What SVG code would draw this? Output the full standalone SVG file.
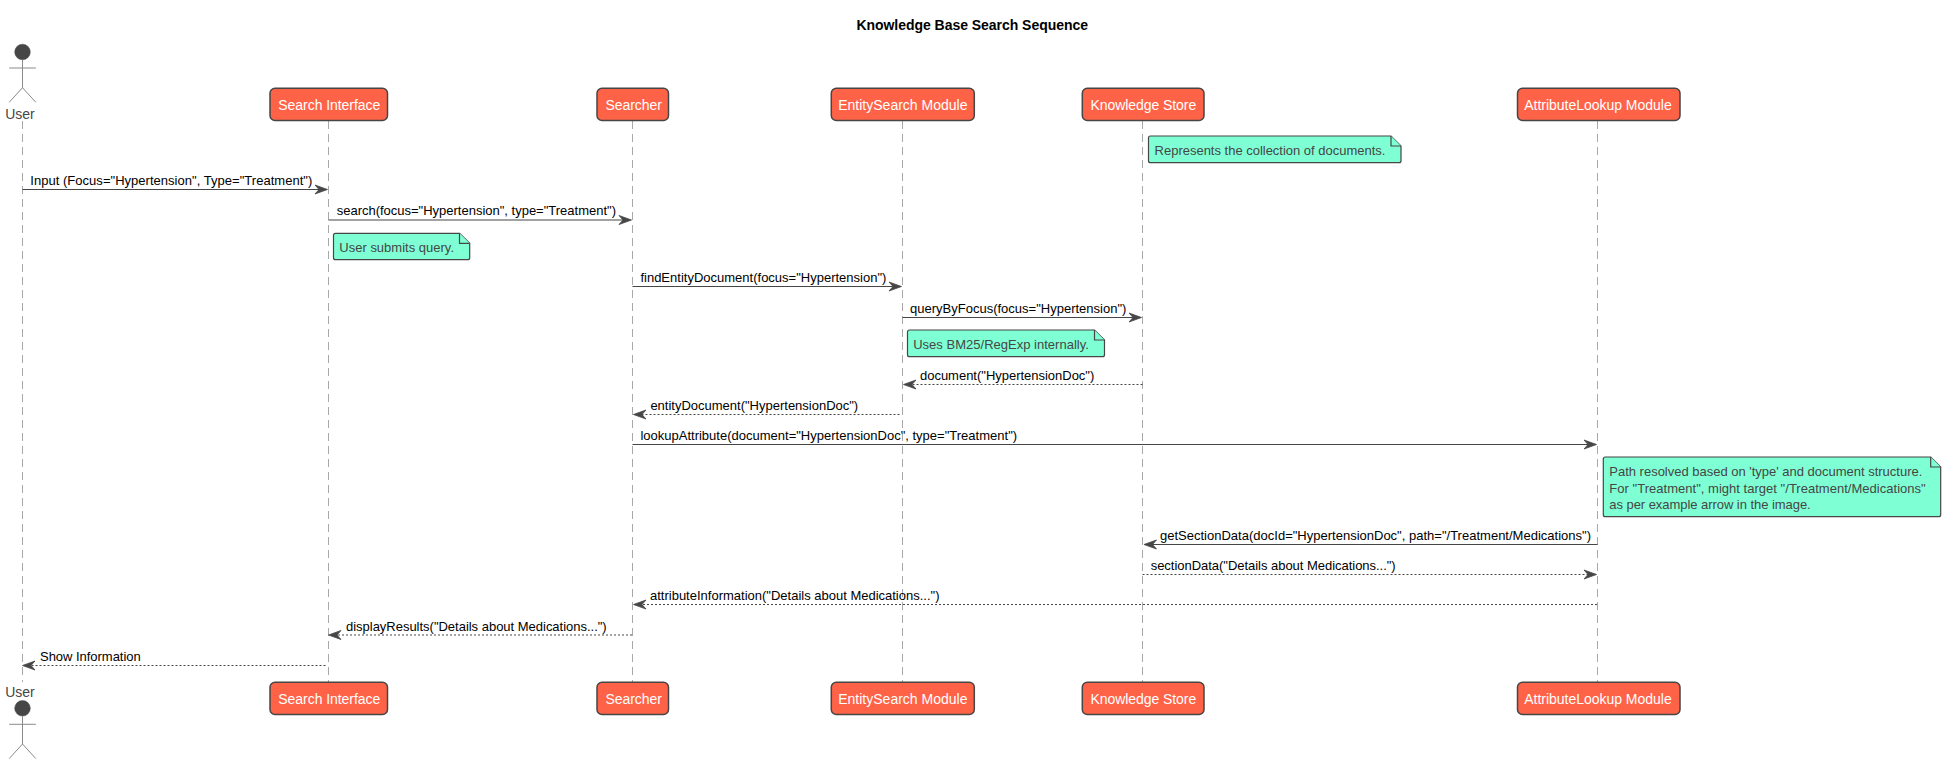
<svg xmlns="http://www.w3.org/2000/svg" width="1946" height="764" viewBox="0 0 1946 764">
<style>
text{font-family:"Liberation Sans",Arial,sans-serif}
.title{font-size:14px;font-weight:bold;fill:#000}
.life{stroke:#a8a8a8;stroke-width:1;stroke-dasharray:8 5;fill:none}
.box{fill:#ff6347;stroke:#454645;stroke-width:1.5}
.bt{font-size:14px;fill:#fff}
.at{font-size:14px;fill:#454645;text-anchor:middle}
.stick{stroke:#8a8a8a;stroke-width:1;fill:none}
.head{fill:#454645;stroke:#454645;stroke-width:.5}
.msg{stroke:#454645;stroke-width:1.2;fill:none}
.dash{stroke-width:1;stroke-dasharray:2 2}
.mt{font-size:13px;fill:#000}
.note{fill:#7fffd4;stroke:#454645;stroke-width:1.2}
.nt{font-size:13px;fill:#454645}
.ah{fill:#454645;stroke:#454645;stroke-width:.8}
</style>
<defs>
<g id="stickman"><circle class="head" cx="0" cy="0" r="7.800"/><path class="stick" d="M0 8V35.700M-13.300 16H13.300M0 35.700L-13.300 50.300M0 35.700L13.300 50.300"/></g>
<polygon id="ar" class="ah" points="0,0 -12.500,-4.500 -8.500,0 -12.500,4.500"/>
<polygon id="al" class="ah" points="0,0 12.500,-4.500 8.500,0 12.500,4.500"/>
</defs>
<text class="title" x="856.400" y="30" textLength="231.600">Knowledge Base Search Sequence</text>
<g id="lifelines">
<path class="life" d="M22.500 121V682M328.500 121V682M632.500 121V682M902.500 121V682M1142.500 121V682M1597.500 121V682"/>
</g>
<g id="user"><use href="#stickman" x="22.500" y="52"/><text class="at" x="20" y="118.500">User</text><text class="at" x="20" y="697">User</text><use href="#stickman" x="22.500" y="708.300"/></g>
<g id="search-interface"><rect class="box" x="270" y="88.300" width="117.500" height="32.200" rx="5"/><text class="bt" x="278.300" y="110" textLength="102">Search Interface</text><rect class="box" x="270" y="682.300" width="117.500" height="32.200" rx="5"/><text class="bt" x="278.300" y="704" textLength="102">Search Interface</text></g>
<g id="searcher"><rect class="box" x="597" y="88.300" width="71.500" height="32.200" rx="5"/><text class="bt" x="605.400" y="110" textLength="56.400">Searcher</text><rect class="box" x="597" y="682.300" width="71.500" height="32.200" rx="5"/><text class="bt" x="605.400" y="704" textLength="56.400">Searcher</text></g>
<g id="entity-search"><rect class="box" x="831.300" y="88.300" width="143" height="32.200" rx="5"/><text class="bt" x="838.200" y="110" textLength="129.300">EntitySearch Module</text><rect class="box" x="831.300" y="682.300" width="143" height="32.200" rx="5"/><text class="bt" x="838.200" y="704" textLength="129.300">EntitySearch Module</text></g>
<g id="knowledge-store"><rect class="box" x="1082.300" y="88.300" width="121.700" height="32.200" rx="5"/><text class="bt" x="1090.400" y="110" textLength="105.800">Knowledge Store</text><rect class="box" x="1082.300" y="682.300" width="121.700" height="32.200" rx="5"/><text class="bt" x="1090.400" y="704" textLength="105.800">Knowledge Store</text></g>
<g id="attribute-lookup"><rect class="box" x="1517.500" y="88.300" width="162.500" height="32.200" rx="5"/><text class="bt" x="1524.300" y="110" textLength="147.400">AttributeLookup Module</text><rect class="box" x="1517.500" y="682.300" width="162.500" height="32.200" rx="5"/><text class="bt" x="1524.300" y="704" textLength="147.400">AttributeLookup Module</text></g>
<g id="note-store"><path class="note" d="M1148.500 138a2 2 0 0 1 2-2H1391L1401 146V160.700a2 2 0 0 1-2 2H1150.500a2 2 0 0 1-2-2Z"/><path class="note" d="M1391 136V146H1401"/><text class="nt" x="1154.600" y="155" textLength="230.800">Represents the collection of documents.</text></g>
<g id="note-query"><path class="note" d="M333.500 235.300a2 2 0 0 1 2-2H459.500L469.700 243.300V257.700a2 2 0 0 1-2 2H335.500a2 2 0 0 1-2-2Z"/><path class="note" d="M459.500 233.300V243.300H469.700"/><text class="nt" x="339.300" y="252.300" textLength="114.700">User submits query.</text></g>
<g id="note-bm25"><path class="note" d="M907.500 332a2 2 0 0 1 2-2H1094.500L1104.500 340V354.700a2 2 0 0 1-2 2H909.500a2 2 0 0 1-2-2Z"/><path class="note" d="M1094.500 330V340H1104.500"/><text class="nt" x="913.200" y="349" textLength="175.700">Uses BM25/RegExp internally.</text></g>
<g id="note-path"><path class="note" d="M1603.300 459a2 2 0 0 1 2-2H1930.700L1940.700 467V514.700a2 2 0 0 1-2 2H1605.300a2 2 0 0 1-2-2Z"/><path class="note" d="M1930.700 457V467H1940.700"/><text class="nt" x="1609.300" y="476" textLength="313">Path resolved based on 'type' and document structure.</text><text class="nt" x="1609.300" y="492.700" textLength="316.400">For "Treatment", might target "/Treatment/Medications"</text><text class="nt" x="1609.300" y="509" textLength="201.400">as per example arrow in the image.</text></g>
<g id="connectors">
<path class="msg" d="M22.500 189.500H322"/><use href="#ar" x="327.500" y="189.500"/><text class="mt" x="30.300" y="185.300" textLength="282">Input (Focus="Hypertension", Type="Treatment")</text>
<path class="msg" d="M328.500 220H626"/><use href="#ar" x="631.500" y="220"/><text class="mt" x="336.700" y="215.300" textLength="279.300">search(focus="Hypertension", type="Treatment")</text>
<path class="msg" d="M632.500 286.500H896"/><use href="#ar" x="901.500" y="286.500"/><text class="mt" x="640.400" y="282.300" textLength="246">findEntityDocument(focus="Hypertension")</text>
<path class="msg" d="M902.500 317.500H1136"/><use href="#ar" x="1141.500" y="317.500"/><text class="mt" x="910" y="313.300" textLength="216.400">queryByFocus(focus="Hypertension")</text>
<path class="msg dash" d="M1142.500 384.500H910"/><use href="#al" x="903.500" y="384.500"/><text class="mt" x="920" y="380.300" textLength="174.300">document("HypertensionDoc")</text>
<path class="msg dash" d="M899.500 414.500H640"/><use href="#al" x="633.500" y="414.500"/><text class="mt" x="650.400" y="410.300" textLength="207.800">entityDocument("HypertensionDoc")</text>
<path class="msg" d="M632.500 444.500H1591"/><use href="#ar" x="1596.500" y="444.500"/><text class="mt" x="640.400" y="440.300" textLength="376.700">lookupAttribute(document="HypertensionDoc", type="Treatment")</text>
<path class="msg" d="M1597.500 544.500H1150"/><use href="#al" x="1144" y="544.500"/><text class="mt" x="1160" y="540.300" textLength="431">getSectionData(docId="HypertensionDoc", path="/Treatment/Medications")</text>
<path class="msg dash" d="M1142.500 574.500H1591"/><use href="#ar" x="1596.500" y="574.500"/><text class="mt" x="1150.700" y="570.300" textLength="245">sectionData("Details about Medications...")</text>
<path class="msg dash" d="M1597 604.500H640"/><use href="#al" x="633.500" y="604.500"/><text class="mt" x="650" y="600.300" textLength="289.500">attributeInformation("Details about Medications...")</text>
<path class="msg dash" d="M632 635H335"/><use href="#al" x="328.500" y="635"/><text class="mt" x="346" y="630.800" textLength="260.700">displayResults("Details about Medications...")</text>
<path class="msg dash" d="M325.500 665.500H29"/><use href="#al" x="22.500" y="665.500"/><text class="mt" x="40" y="661.300" textLength="100.700">Show Information</text>
</g>
</svg>
